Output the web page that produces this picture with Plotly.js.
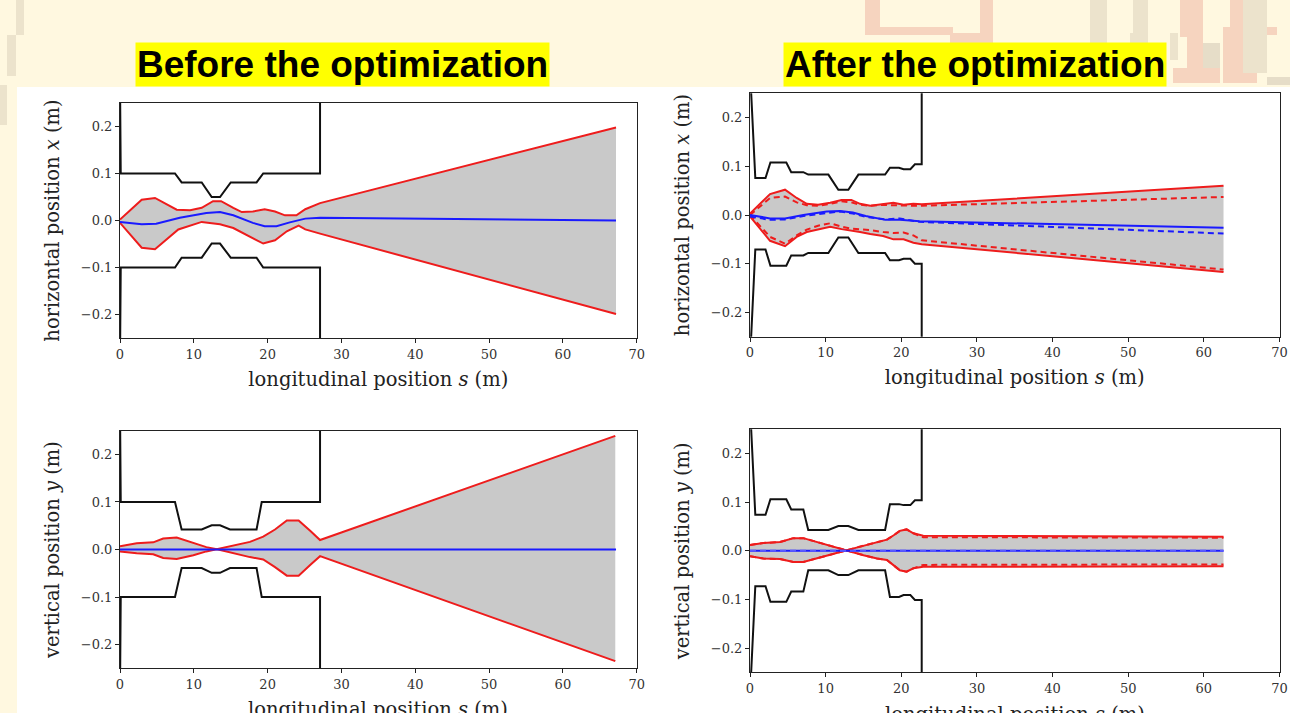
<!DOCTYPE html>
<html><head><meta charset="utf-8">
<script src="https://cdn.plot.ly/plotly-3.0.1.min.js"></script>
<style>html,body{margin:0;padding:0;background:#FFF8E0;}#chart{width:1290px;height:713px;}</style>
</head><body><div id="chart"></div>
<script>
// ---------- Plot 1: before, horizontal ----------
var apS1   = [0, 0.1, 7.45, 8.35, 11.07, 12.42, 13.55, 15.0, 18.5, 19.4, 27.1, 27.1];
var apUp1  = [0.3, 0.1, 0.1, 0.081, 0.081, 0.050, 0.050, 0.081, 0.081, 0.1, 0.1, 0.3];
var apLo1  = [-0.3, -0.1, -0.1, -0.079, -0.079, -0.049, -0.049, -0.079, -0.079, -0.1, -0.1, -0.3];
var envSu1 = [0, 2.94, 4.74, 7.68, 9.5, 11.07, 12.6, 13.7, 15.35, 16.5, 18.0, 19.6, 21.0, 22.35, 23.9, 25.1, 27.1, 67.2];
var envU1  = [0.002, 0.044, 0.048, 0.023, 0.022, 0.027, 0.041, 0.041, 0.027, 0.018, 0.019, 0.024, 0.019, 0.011, 0.011, 0.024, 0.037, 0.198];
var envSl1 = [0, 2.94, 4.74, 6.3, 7.9, 11.07, 13.55, 15.35, 18.0, 19.4, 21.0, 22.6, 24.2, 25.1, 27.1, 67.2];
var envL1  = [-0.005, -0.058, -0.061, -0.040, -0.019, -0.003, -0.008, -0.016, -0.037, -0.049, -0.042, -0.023, -0.011, -0.019, -0.028, -0.199];
var cenS1  = [0, 2.94, 4.9, 8.1, 11.7, 13.55, 15.35, 18.0, 19.6, 21.2, 23.0, 25.1, 27.1, 67.2];
var cen1   = [-0.003, -0.008, -0.007, 0.006, 0.016, 0.018, 0.011, -0.005, -0.012, -0.012, -0.004, 0.004, 0.006, 0.0];

// ---------- Plot 3: before, vertical ----------
var apS3  = [0, 0.1, 7.45, 8.35, 11.07, 12.42, 13.55, 14.9, 18.5, 19.2, 27.1, 27.1];
var apUp3 = [0.3, 0.1, 0.1, 0.042, 0.042, 0.051, 0.051, 0.042, 0.042, 0.1, 0.1, 0.3];
var apLo3 = [-0.3, -0.1, -0.1, -0.039, -0.039, -0.049, -0.049, -0.039, -0.039, -0.1, -0.1, -0.3];
var envS3 = [0, 2.26, 4.5, 5.85, 7.68, 9.94, 11.7, 13.3, 15.35, 17.6, 19.4, 21.0, 22.6, 24.2, 25.8, 27.1, 67.1];
var envA3 = [0.007, 0.013, 0.015, 0.023, 0.025, 0.013, 0.005, 0.0, -0.008, -0.016, -0.021, -0.037, -0.055, -0.055, -0.032, -0.014, -0.235];
var envB3 = [-0.004, -0.008, -0.010, -0.018, -0.020, -0.012, -0.004, 0.001, 0.008, 0.016, 0.027, 0.042, 0.061, 0.061, 0.039, 0.020, 0.239];
var cenS3 = [0, 67.2];
var cen3  = [0, 0];

// ---------- Plot 2: after, horizontal ----------
var apS2  = [0, 0.7, 2.05, 2.7, 4.8, 5.45, 7.05, 7.7, 10.36, 11.68, 13.0, 14.33, 17.86, 18.5, 19.7, 20.3, 21.2, 21.8, 22.7, 22.7];
var apUp2 = [0.3, 0.076, 0.076, 0.108, 0.108, 0.088, 0.088, 0.083, 0.083, 0.052, 0.052, 0.083, 0.083, 0.097, 0.097, 0.094, 0.094, 0.104, 0.104, 0.3];
var apLo2 = [-0.3, -0.071, -0.071, -0.104, -0.104, -0.083, -0.083, -0.078, -0.078, -0.046, -0.046, -0.078, -0.078, -0.093, -0.093, -0.090, -0.090, -0.100, -0.100, -0.3];
var envS2 = [0, 1.3, 2.65, 4.63, 6.17, 7.5, 9.0, 10.6, 12.1, 13.4, 14.55, 15.9, 17.6, 18.96, 20.3, 21.6, 22.7, 62.6];
var envU2  = [0.003, 0.023, 0.043, 0.052, 0.035, 0.023, 0.021, 0.025, 0.031, 0.031, 0.023, 0.019, 0.023, 0.025, 0.021, 0.023, 0.022, 0.060];
var envL2  = [-0.003, -0.028, -0.053, -0.064, -0.045, -0.035, -0.029, -0.024, -0.029, -0.033, -0.035, -0.039, -0.043, -0.050, -0.050, -0.057, -0.060, -0.117];
var envUd2 = [0.0, 0.018, 0.035, 0.038, 0.026, 0.020, 0.019, 0.023, 0.028, 0.026, 0.021, 0.019, 0.021, 0.020, 0.019, 0.019, 0.019, 0.037];
var envLd2 = [0.0, -0.022, -0.045, -0.059, -0.042, -0.030, -0.022, -0.017, -0.024, -0.028, -0.029, -0.031, -0.035, -0.037, -0.036, -0.042, -0.052, -0.112];
var cenS2  = [0, 2.65, 4.63, 7.05, 10.14, 11.9, 13.6, 15.3, 17.9, 19.8, 22.4, 62.6];
var cen2   = [0.0, -0.007, -0.007, 0.0, 0.007, 0.008, 0.005, -0.002, -0.010, -0.010, -0.013, -0.026];
var cenD2  = [-0.003, -0.010, -0.009, -0.002, 0.004, 0.007, 0.003, -0.004, -0.009, -0.007, -0.014, -0.038];

// ---------- Plot 4: after, vertical ----------
var apS4  = [0, 0.7, 2.05, 2.7, 4.8, 5.45, 7.05, 7.7, 10.36, 11.68, 13.0, 14.33, 17.86, 18.5, 19.7, 20.3, 21.2, 21.8, 22.7, 22.7];
var apUp4 = [0.3, 0.074, 0.074, 0.106, 0.106, 0.085, 0.085, 0.043, 0.043, 0.051, 0.051, 0.043, 0.043, 0.096, 0.096, 0.094, 0.094, 0.104, 0.104, 0.3];
var apLo4 = [-0.3, -0.073, -0.073, -0.105, -0.105, -0.084, -0.084, -0.040, -0.040, -0.050, -0.050, -0.040, -0.040, -0.095, -0.095, -0.091, -0.091, -0.101, -0.101, -0.3];
var envS4  = [0, 1.76, 3.97, 5.73, 7.05, 8.8, 10.6, 12.3, 13.2, 15.0, 16.8, 18.1, 19.0, 19.8, 20.7, 21.6, 22.9, 62.6];
var envA4  = [0.012, 0.016, 0.018, 0.026, 0.026, 0.018, 0.010, 0.002, -0.001, -0.009, -0.016, -0.019, -0.030, -0.040, -0.043, -0.036, -0.033, -0.032];
var envB4  = [-0.011, -0.016, -0.017, -0.023, -0.023, -0.016, -0.009, -0.001, 0.003, 0.010, 0.017, 0.023, 0.032, 0.041, 0.044, 0.036, 0.031, 0.029];
var envAd4 = [0.012, 0.016, 0.018, 0.026, 0.026, 0.018, 0.010, 0.002, -0.001, -0.009, -0.016, -0.019, -0.030, -0.040, -0.043, -0.036, -0.029, -0.028];
var envBd4 = [-0.011, -0.016, -0.017, -0.023, -0.023, -0.016, -0.009, -0.001, 0.003, 0.010, 0.017, 0.023, 0.032, 0.041, 0.044, 0.036, 0.028, 0.027];
var cenS4  = [0, 62.6];
var cen4   = [0, 0];

var titles = ["Before the optimization", "After the optimization"];
var xTitle = "longitudinal position <i>s</i> (m)";
var yTitleH = "horizontal position <i>x</i> (m)";
var yTitleV = "vertical position <i>y</i> (m)";

// ---------- traces ----------
var RED = "#ee1c1c", BLUE = "#1a1aff", BLACK = "#111111", GRAY = "#c9c9c9";
function ln(ax, x, y, color, dash, w) {
  return {type: "scatter", mode: "lines", x: x, y: y, xaxis: "x" + ax, yaxis: "y" + ax,
    line: {color: color, width: w === undefined ? 2 : w, dash: dash || "solid"}, hoverinfo: "skip", showlegend: false};
}
function band(ax, xl, yl, xu, yu) {
  var a = ln(ax, xl, yl, GRAY, "solid", 0);
  var b = ln(ax, xu, yu, GRAY, "solid", 0);
  b.fill = "tonexty"; b.fillcolor = GRAY;
  return [a, b];
}
var data = [];
// plot 1
data = data.concat(band("", envSl1, envL1, envSu1, envU1));
data.push(ln("", apS1, apUp1, BLACK), ln("", apS1, apLo1, BLACK));
data.push(ln("", envSu1, envU1, RED), ln("", envSl1, envL1, RED));
data.push(ln("", cenS1, cen1, BLUE));
// plot 2
data = data.concat(band("2", envS2, envL2, envS2, envU2));
data.push(ln("2", apS2, apUp2, BLACK), ln("2", apS2, apLo2, BLACK));
data.push(ln("2", envS2, envU2, RED), ln("2", envS2, envL2, RED));
data.push(ln("2", envS2, envUd2, RED, "6px,4px"), ln("2", envS2, envLd2, RED, "6px,4px"));
data.push(ln("2", cenS2, cen2, BLUE), ln("2", cenS2, cenD2, BLUE, "6px,4px"));
// plot 3
data = data.concat(band("3", envS3, envB3, envS3, envA3));
data.push(ln("3", apS3, apUp3, BLACK), ln("3", apS3, apLo3, BLACK));
data.push(ln("3", envS3, envA3, RED), ln("3", envS3, envB3, RED));
data.push(ln("3", cenS3, cen3, BLUE));
// plot 4
data = data.concat(band("4", envS4, envB4, envS4, envA4));
data.push(ln("4", apS4, apUp4, BLACK), ln("4", apS4, apLo4, BLACK));
data.push(ln("4", envS4, envA4, RED), ln("4", envS4, envB4, RED));
data.push(ln("4", envS4, envAd4, RED, "6px,4px"), ln("4", envS4, envBd4, RED, "6px,4px"));
data.push(ln("4", cenS4, cen4, BLUE), ln("4", cenS4, cen4, "#5a5aff", "6px,4px"));

// ---------- layout ----------
var W = 1290, H = 713;
function px(x) { return x / W; }
function py(y) { return 1 - y / H; }
var tickFont = {family: "DejaVu Serif", size: 13, color: "#333"};
var titleFont = {family: "DejaVu Serif", size: 19.5, color: "#222"};
function xax(dom, anchor, withTitle) {
  var a = {domain: dom, anchor: anchor, range: [0, 70], tick0: 0, dtick: 10,
    showline: true, mirror: true, linecolor: "#222", linewidth: 1, ticks: "outside", ticklen: 4,
    tickcolor: "#222", showgrid: false, zeroline: false, tickfont: tickFont};
  if (withTitle) a.title = {text: xTitle, font: titleFont, standoff: 11};
  return a;
}
function yax(dom, anchor, t) {
  return {domain: dom, anchor: anchor, range: [-0.25, 0.25], tick0: 0, dtick: 0.1, tickformat: ".1f",
    showline: true, mirror: true, linecolor: "#222", linewidth: 1, ticks: "outside", ticklen: 4,
    tickcolor: "#222", showgrid: false, zeroline: false, tickfont: tickFont,
    title: {text: t, font: titleFont, standoff: 15}};
}
var L = [px(120), px(636.7)], R = [px(750), px(1279.5)];
function titleBox(x, t) {
  return {xref: "paper", yref: "paper", x: px(x), y: py(64.5), xanchor: "center", yanchor: "middle",
    text: "<b>" + t + "</b>", showarrow: false, bgcolor: "#FFFF00", borderpad: 1,
    font: {family: "Liberation Sans, Arial", size: 37, color: "#000"}};
}
// bottom-row x titles run off the bottom of the slide, as in the reference
function cutTitle(x, y) {
  return {xref: "paper", yref: "paper", x: px(x), y: py(y), xanchor: "center", yanchor: "middle",
    text: xTitle, showarrow: false, font: titleFont};
}
var layout = {
  width: W, height: H, margin: {l: 0, r: 0, t: 0, b: 0},
  paper_bgcolor: "#FFF8E0", plot_bgcolor: "#ffffff",
  xaxis: xax(L, "y", true), yaxis: yax([py(338), py(103)], "x", yTitleH),
  xaxis2: xax(R, "y2", true), yaxis2: yax([py(336.7), py(93.3)], "x2", yTitleH),
  xaxis3: xax(L, "y3", false), yaxis3: yax([py(668.3), py(430.7)], "x3", yTitleV),
  xaxis4: xax(R, "y4", false), yaxis4: yax([py(672.3), py(429.3)], "x4", yTitleV),
  annotations: [titleBox(342, titles[0]), titleBox(974.5, titles[1]),
    cutTitle(378.3, 709), cutTitle(1014.7, 714)],
  shapes: []
};
function rect(x0, y0, x1, y1, c) {
  layout.shapes.push({type: "rect", xref: "paper", yref: "paper", x0: px(x0), x1: px(x1), y0: py(y1), y1: py(y0),
    fillcolor: c, line: {width: 0}, layer: "below"});
}
// white slide panel
rect(17, 87, 1290, 713, "#ffffff");
// left decorative strip
var BE = "#ECE3CC", PK = "#F6D4BF", GB = "#E6DDC8";
rect(16, 0, 24, 35, BE); rect(7, 35, 16, 76, BE); rect(0, 85, 7, 125, BE);
// top-right decorations
rect(865, 0, 880, 35, PK); rect(872, 27, 953, 35, PK); rect(950, 33, 985, 43, PK); rect(980, 0, 993, 43, PK);
rect(1090, 0, 1107, 43, BE); rect(1133, 0, 1148, 43, BE); rect(1130, 33, 1140, 85, BE);
rect(1180, 0, 1203, 37, PK); rect(1187, 33, 1203, 83, PK); rect(1170, 33, 1178, 60, BE);
rect(1203, 43, 1220, 83, GB); rect(1173, 68, 1220, 83, PK);
rect(1223, 27, 1257, 83, PK); rect(1230, 0, 1250, 30, PK); rect(1243, 0, 1267, 73, BE);
rect(1267, 27, 1277, 35, PK); rect(1267, 77, 1290, 85, GB);

Plotly.newPlot("chart", data, layout, {staticPlot: true});
</script></body></html>
